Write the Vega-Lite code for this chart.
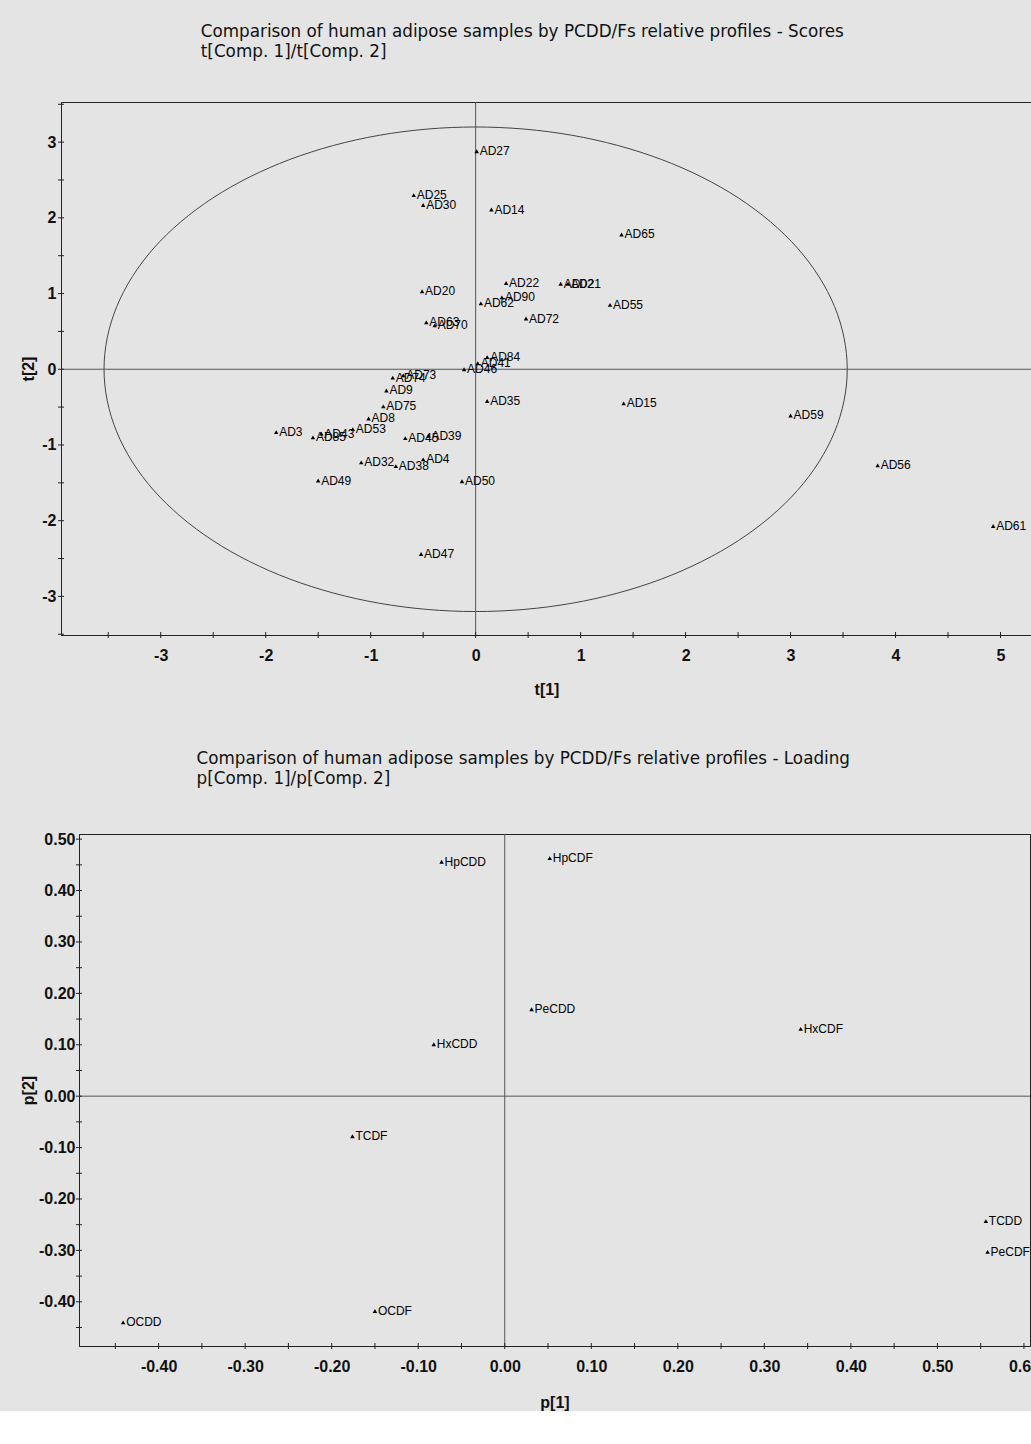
{
  "$schema": "https://vega.github.io/schema/vega-lite/v6.json",
  "background": "#e4e4e4",
  "padding": {"left": 20, "top": 23, "right": 0, "bottom": 0},
  "spacing": 52,
  "config": {
    "locale": {"number": {"decimal": ".", "thousands": ",", "grouping": [3], "currency": ["$", ""], "minus": "-"}},
    "view": {"stroke": "#222", "strokeWidth": 1},
    "font": "Liberation Sans",
    "axis": {"grid": false, "ticks": false, "labelOverlap": false, "labelFlush": false, "domainColor": "#222", "labelFont": "Liberation Sans", "labelFontWeight": "bold", "labelFontSize": 16, "labelColor": "#111", "titleFont": "Liberation Sans", "titleFontWeight": "bold", "titleFontSize": 16, "titleColor": "#111", "minExtent": 0},
    "title": {"font": "DejaVu Sans", "fontSize": 16.8, "fontWeight": "normal", "color": "#111", "anchor": "start", "lineHeight": 20}
  },
  "datasets": {
    "scores": [
      {"id": "AD27", "x": 0.01, "y": 2.88},
      {"id": "AD25", "x": -0.59, "y": 2.30},
      {"id": "AD30", "x": -0.50, "y": 2.17},
      {"id": "AD14", "x": 0.15, "y": 2.11},
      {"id": "AD65", "x": 1.39, "y": 1.78},
      {"id": "AD20", "x": -0.51, "y": 1.03},
      {"id": "AD22", "x": 0.29, "y": 1.14},
      {"id": "AD02", "x": 0.81, "y": 1.13},
      {"id": "AD21", "x": 0.88, "y": 1.13},
      {"id": "AD90", "x": 0.25, "y": 0.95},
      {"id": "AD62", "x": 0.05, "y": 0.87},
      {"id": "AD55", "x": 1.28, "y": 0.85},
      {"id": "AD72", "x": 0.48, "y": 0.67},
      {"id": "AD63", "x": -0.47, "y": 0.62},
      {"id": "AD70", "x": -0.39, "y": 0.58},
      {"id": "AD84", "x": 0.11, "y": 0.16},
      {"id": "AD41", "x": 0.02, "y": 0.08},
      {"id": "AD46", "x": -0.11, "y": 0.0},
      {"id": "AD74", "x": -0.79, "y": -0.11},
      {"id": "AD73", "x": -0.69, "y": -0.08},
      {"id": "AD9", "x": -0.85, "y": -0.28},
      {"id": "AD75", "x": -0.88, "y": -0.49},
      {"id": "AD8", "x": -1.02, "y": -0.65},
      {"id": "AD53", "x": -1.17, "y": -0.79},
      {"id": "AD3", "x": -1.90, "y": -0.83},
      {"id": "AD85", "x": -1.55, "y": -0.90},
      {"id": "AD43", "x": -1.47, "y": -0.85},
      {"id": "AD45", "x": -0.67, "y": -0.91},
      {"id": "AD39", "x": -0.45, "y": -0.88},
      {"id": "AD32", "x": -1.09, "y": -1.23},
      {"id": "AD38", "x": -0.76, "y": -1.28},
      {"id": "AD4", "x": -0.50, "y": -1.19},
      {"id": "AD49", "x": -1.50, "y": -1.47},
      {"id": "AD50", "x": -0.13, "y": -1.48},
      {"id": "AD35", "x": 0.11, "y": -0.42},
      {"id": "AD15", "x": 1.41, "y": -0.45},
      {"id": "AD59", "x": 3.00, "y": -0.61},
      {"id": "AD56", "x": 3.83, "y": -1.27},
      {"id": "AD61", "x": 4.93, "y": -2.07},
      {"id": "AD47", "x": -0.52, "y": -2.44}
    ],
    "ellipse": [
      {"i": 0, "x": 3.54, "y": 0},
      {"i": 1, "x": 3.419, "y": 0.828},
      {"i": 2, "x": 3.066, "y": 1.6},
      {"i": 3, "x": 2.503, "y": 2.263},
      {"i": 4, "x": 1.77, "y": 2.771},
      {"i": 5, "x": 0.916, "y": 3.091},
      {"i": 6, "x": 0, "y": 3.2},
      {"i": 7, "x": -0.916, "y": 3.091},
      {"i": 8, "x": -1.77, "y": 2.771},
      {"i": 9, "x": -2.503, "y": 2.263},
      {"i": 10, "x": -3.066, "y": 1.6},
      {"i": 11, "x": -3.419, "y": 0.828},
      {"i": 12, "x": -3.54, "y": 0},
      {"i": 13, "x": -3.419, "y": -0.828},
      {"i": 14, "x": -3.066, "y": -1.6},
      {"i": 15, "x": -2.503, "y": -2.263},
      {"i": 16, "x": -1.77, "y": -2.771},
      {"i": 17, "x": -0.916, "y": -3.091},
      {"i": 18, "x": 0, "y": -3.2},
      {"i": 19, "x": 0.916, "y": -3.091},
      {"i": 20, "x": 1.77, "y": -2.771},
      {"i": 21, "x": 2.503, "y": -2.263},
      {"i": 22, "x": 3.066, "y": -1.6},
      {"i": 23, "x": 3.419, "y": -0.828}
    ],
    "loadings": [
      {"id": "HpCDD", "x": -0.073, "y": 0.456},
      {"id": "HpCDF", "x": 0.052, "y": 0.463},
      {"id": "PeCDD", "x": 0.031, "y": 0.169},
      {"id": "HxCDF", "x": 0.342, "y": 0.131},
      {"id": "HxCDD", "x": -0.082, "y": 0.101},
      {"id": "TCDF", "x": -0.176, "y": -0.078},
      {"id": "TCDD", "x": 0.556, "y": -0.243},
      {"id": "PeCDF", "x": 0.558, "y": -0.303},
      {"id": "OCDF", "x": -0.150, "y": -0.418},
      {"id": "OCDD", "x": -0.441, "y": -0.440}
    ],
    "origin": [{"x": 0, "y": 0}],
    "topXTicks": [
      {"x": -3.5, "y": -3.51}, {"x": -3, "y": -3.51}, {"x": -2.5, "y": -3.51}, {"x": -2, "y": -3.51}, {"x": -1.5, "y": -3.51}, {"x": -1, "y": -3.51}, {"x": -0.5, "y": -3.51}, {"x": 0, "y": -3.51}, {"x": 0.5, "y": -3.51}, {"x": 1, "y": -3.51}, {"x": 1.5, "y": -3.51}, {"x": 2, "y": -3.51}, {"x": 2.5, "y": -3.51}, {"x": 3, "y": -3.51}, {"x": 3.5, "y": -3.51}, {"x": 4, "y": -3.51}, {"x": 4.5, "y": -3.51}, {"x": 5, "y": -3.51}
    ],
    "topYTicks": [
      {"x": -3.95, "y": -3.5}, {"x": -3.95, "y": -3}, {"x": -3.95, "y": -2.5}, {"x": -3.95, "y": -2}, {"x": -3.95, "y": -1.5}, {"x": -3.95, "y": -1}, {"x": -3.95, "y": -0.5}, {"x": -3.95, "y": 0}, {"x": -3.95, "y": 0.5}, {"x": -3.95, "y": 1}, {"x": -3.95, "y": 1.5}, {"x": -3.95, "y": 2}, {"x": -3.95, "y": 2.5}, {"x": -3.95, "y": 3}, {"x": -3.95, "y": 3.5}
    ],
    "botXTicks": [
      {"x": -0.45, "y": -0.486}, {"x": -0.4, "y": -0.486}, {"x": -0.35, "y": -0.486}, {"x": -0.3, "y": -0.486}, {"x": -0.25, "y": -0.486}, {"x": -0.2, "y": -0.486}, {"x": -0.15, "y": -0.486}, {"x": -0.1, "y": -0.486}, {"x": -0.05, "y": -0.486}, {"x": 0, "y": -0.486}, {"x": 0.05, "y": -0.486}, {"x": 0.1, "y": -0.486}, {"x": 0.15, "y": -0.486}, {"x": 0.2, "y": -0.486}, {"x": 0.25, "y": -0.486}, {"x": 0.3, "y": -0.486}, {"x": 0.35, "y": -0.486}, {"x": 0.4, "y": -0.486}, {"x": 0.45, "y": -0.486}, {"x": 0.5, "y": -0.486}, {"x": 0.55, "y": -0.486}, {"x": 0.6, "y": -0.486}
    ],
    "botYTicks": [
      {"x": -0.492, "y": -0.45}, {"x": -0.492, "y": -0.4}, {"x": -0.492, "y": -0.35}, {"x": -0.492, "y": -0.3}, {"x": -0.492, "y": -0.25}, {"x": -0.492, "y": -0.2}, {"x": -0.492, "y": -0.15}, {"x": -0.492, "y": -0.1}, {"x": -0.492, "y": -0.05}, {"x": -0.492, "y": 0}, {"x": -0.492, "y": 0.05}, {"x": -0.492, "y": 0.1}, {"x": -0.492, "y": 0.15}, {"x": -0.492, "y": 0.2}, {"x": -0.492, "y": 0.25}, {"x": -0.492, "y": 0.3}, {"x": -0.492, "y": 0.35}, {"x": -0.492, "y": 0.4}, {"x": -0.492, "y": 0.45}, {"x": -0.492, "y": 0.5}
    ],
    "spacer": [{"v": 0}]
  },
  "vconcat": [
    {
      "width": 971,
      "height": 533,
      "title": {"text": ["Comparison of human adipose samples by PCDD/Fs relative profiles - Scores", "t[Comp. 1]/t[Comp. 2]"], "dx": 180, "offset": 41},
      "layer": [
        {
          "data": {"name": "ellipse"},
          "mark": {"type": "line", "interpolate": "cardinal-closed", "color": "#444", "strokeWidth": 1},
          "encoding": {
            "x": {"field": "x", "type": "quantitative", "scale": {"domain": [-3.95, 5.3], "nice": false, "zero": false},
              "axis": {"title": "t[1]", "format": "d", "values": [-3, -2, -1, 0, 1, 2, 3, 4, 5], "labelPadding": 12, "titlePadding": 18}},
            "y": {"field": "y", "type": "quantitative", "scale": {"domain": [-3.51, 3.53], "nice": false, "zero": false},
              "axis": {"title": "t[2]", "format": "d", "values": [-3, -2, -1, 0, 1, 2, 3], "labelPadding": 5, "titlePadding": 5}},
            "order": {"field": "i", "type": "quantitative"}
          }
        },
        {
          "data": {"name": "origin"},
          "mark": {"type": "rule", "color": "#555", "strokeWidth": 1},
          "encoding": {"x": {"field": "x", "type": "quantitative"}}
        },
        {
          "data": {"name": "origin"},
          "mark": {"type": "rule", "color": "#555", "strokeWidth": 1},
          "encoding": {"y": {"field": "y", "type": "quantitative"}}
        },
        {
          "data": {"name": "topXTicks"},
          "mark": {"type": "tick", "orient": "vertical", "size": 6, "thickness": 1, "color": "#222", "opacity": 1},
          "encoding": {"x": {"field": "x", "type": "quantitative"}, "y": {"field": "y", "type": "quantitative"}}
        },
        {
          "data": {"name": "topYTicks"},
          "mark": {"type": "tick", "orient": "horizontal", "size": 6, "thickness": 1, "color": "#222", "opacity": 1},
          "encoding": {"x": {"field": "x", "type": "quantitative"}, "y": {"field": "y", "type": "quantitative"}}
        },
        {
          "data": {"name": "scores"},
          "mark": {"type": "point", "shape": "triangle-up", "filled": true, "size": 20, "color": "#000", "opacity": 1},
          "encoding": {"x": {"field": "x", "type": "quantitative"}, "y": {"field": "y", "type": "quantitative"}}
        },
        {
          "data": {"name": "scores"},
          "mark": {"type": "text", "align": "left", "baseline": "middle", "dx": 3, "fontSize": 12, "font": "Liberation Sans", "color": "#000"},
          "encoding": {"x": {"field": "x", "type": "quantitative"}, "y": {"field": "y", "type": "quantitative"}, "text": {"field": "id"}}
        }
      ]
    },
    {
      "spacing": -45,
      "hconcat": [
        {
          "width": 1,
          "height": 1,
          "data": {"name": "spacer"},
          "mark": {"type": "point", "opacity": 0},
          "encoding": {},
          "view": {"stroke": null, "fill": null}
        },
        {
          "width": 951,
          "height": 512,
          "title": {"text": ["Comparison of human adipose samples by PCDD/Fs relative profiles - Loading", "p[Comp. 1]/p[Comp. 2]"], "dx": 176, "offset": 43},
          "layer": [
            {
              "data": {"name": "origin"},
              "mark": {"type": "rule", "color": "#555", "strokeWidth": 1},
              "encoding": {"x": {"field": "x", "type": "quantitative", "scale": {"domain": [-0.492, 0.607], "nice": false, "zero": false},
                  "axis": {"title": "p[1]", "format": ".2f", "values": [-0.4, -0.3, -0.2, -0.1, 0, 0.1, 0.2, 0.3, 0.4, 0.5, 0.6], "labelPadding": 12, "titlePadding": 20}}}
            },
            {
              "data": {"name": "origin"},
              "mark": {"type": "rule", "color": "#555", "strokeWidth": 1},
              "encoding": {"y": {"field": "y", "type": "quantitative", "scale": {"domain": [-0.486, 0.51], "nice": false, "zero": false},
                  "axis": {"title": "p[2]", "format": ".2f", "values": [-0.4, -0.3, -0.2, -0.1, 0, 0.1, 0.2, 0.3, 0.4, 0.5], "labelPadding": 4, "titlePadding": 2}}}
            },
            {
              "data": {"name": "botXTicks"},
              "mark": {"type": "tick", "orient": "vertical", "size": 6, "thickness": 1, "color": "#222", "opacity": 1},
              "encoding": {"x": {"field": "x", "type": "quantitative"}, "y": {"field": "y", "type": "quantitative"}}
            },
            {
              "data": {"name": "botYTicks"},
              "mark": {"type": "tick", "orient": "horizontal", "size": 6, "thickness": 1, "color": "#222", "opacity": 1},
              "encoding": {"x": {"field": "x", "type": "quantitative"}, "y": {"field": "y", "type": "quantitative"}}
            },
            {
              "data": {"name": "loadings"},
              "mark": {"type": "point", "shape": "triangle-up", "filled": true, "size": 20, "color": "#000", "opacity": 1},
              "encoding": {"x": {"field": "x", "type": "quantitative"}, "y": {"field": "y", "type": "quantitative"}}
            },
            {
              "data": {"name": "loadings"},
              "mark": {"type": "text", "align": "left", "baseline": "middle", "dx": 3, "fontSize": 12, "font": "Liberation Sans", "color": "#000"},
              "encoding": {"x": {"field": "x", "type": "quantitative"}, "y": {"field": "y", "type": "quantitative"}, "text": {"field": "id"}}
            }
          ]
        }
      ]
    }
  ]
}
